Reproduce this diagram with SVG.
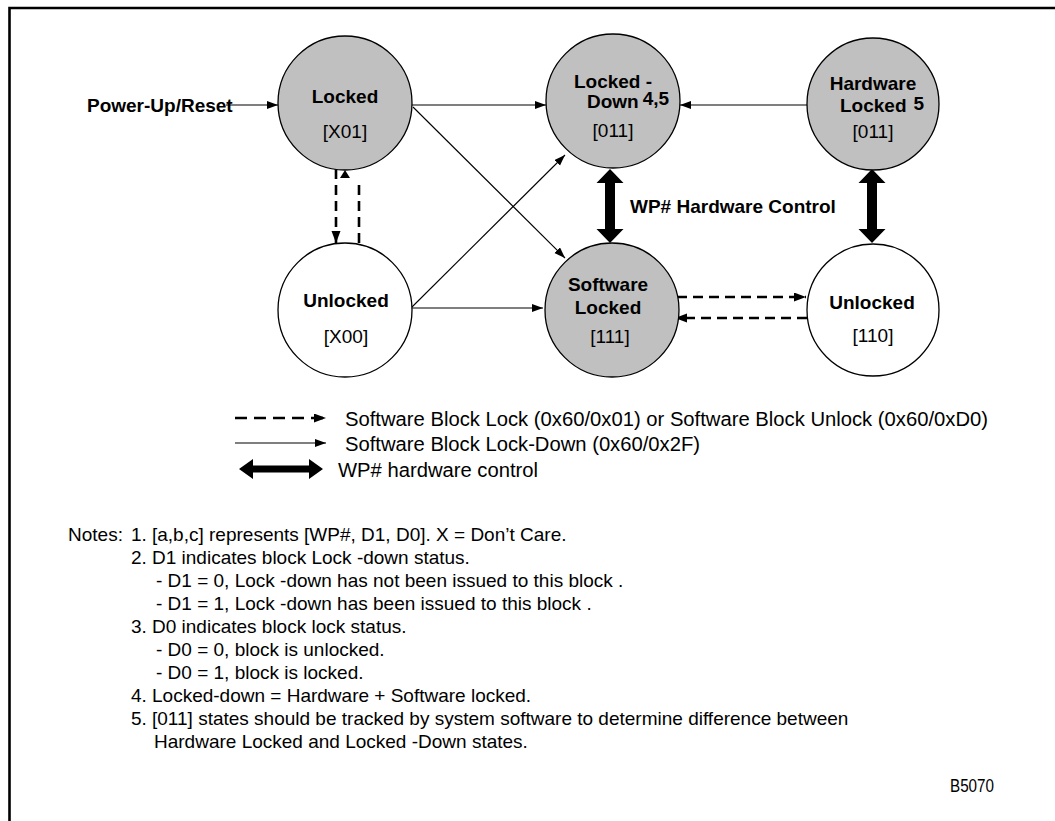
<svg xmlns="http://www.w3.org/2000/svg" width="1055" height="821" viewBox="0 0 1055 821">
<defs>
<marker id="ah" markerUnits="userSpaceOnUse" markerWidth="13" markerHeight="10" refX="12" refY="4.5" orient="auto">
<path d="M0,0 L12,4.5 L0,9 Z" fill="#000" stroke="none"/>
</marker>
<marker id="ahs" markerUnits="userSpaceOnUse" markerWidth="13" markerHeight="10" refX="11" refY="4" orient="auto">
<path d="M0,0 L11,4 L0,8 Z" fill="#000" stroke="none"/>
</marker>
</defs>
<style>
.bg{fill:#fff}
.node{stroke:#000;stroke-width:1.3}
.gray{fill:#c0c0c0}
.white{fill:#fff}
.lbl{font-family:"Liberation Sans",Arial,sans-serif;font-weight:bold;font-size:19px;fill:#000}
.code{font-family:"Liberation Sans",Arial,sans-serif;font-size:19px;fill:#000}
.solid{fill:none;stroke:#000;stroke-width:1.1;marker-end:url(#ahs)}
.dash{fill:none;stroke:#000;stroke-width:2.6;stroke-dasharray:10,6;marker-end:url(#ah)}
.thick{fill:#000;stroke:none}
.leg{font-family:"Liberation Sans",Arial,sans-serif;font-size:20px;fill:#000}
.note{font-family:"Liberation Sans",Arial,sans-serif;font-size:19px;fill:#000}
.border{fill:none;stroke:#000;stroke-width:2.6}
</style>
<rect class="bg" x="0" y="0" width="1055" height="821"/>
<path class="border" d="M9.5,821 L9.5,8 L1055,8"/>

<g id="connectors">
<path class="solid" d="M226,105 L278,105"/>
<path class="solid" d="M412,105 L546,105"/>
<path class="solid" d="M807,105 L680,105"/>
<path class="solid" d="M413,107 L565,258"/>
<path class="solid" d="M412,307 L565,155"/>
<path class="solid" d="M412,308 L543,308"/>
<path class="dash" d="M336,169 L336,243"/>
<path class="dash" d="M359,243 L359,179" style="marker-end:none"/>
<path class="thick" d="M345,170 L350,178 L340,178 Z"/>
<path class="dash" d="M677,297 L806,297"/>
<path class="dash" d="M807,318 L675,318"/>
<path class="thick" d="M610,169 L623.5,183 L615,183 L615,229 L623.5,229 L610,243 L596.5,229 L605,229 L605,183 L596.5,183 Z"/>
<path class="thick" d="M872,169 L885.5,183 L877,183 L877,229 L885.5,229 L872,243 L858.5,229 L867,229 L867,183 L858.5,183 Z"/>
</g>

<g id="node-locked">
<circle class="node gray" cx="345" cy="103" r="67"/>
<text class="lbl" x="345" y="103" text-anchor="middle">Locked</text>
<text class="code" x="345" y="138" text-anchor="middle">[X01]</text>
</g>

<g id="node-locked-down">
<circle class="node gray" cx="613" cy="101" r="67"/>
<text class="lbl" x="613" y="88" text-anchor="middle">Locked -</text>
<text class="lbl" x="587" y="108">Down<tspan dx="4" dy="-3">4,5</tspan></text>
<text class="code" x="613" y="137" text-anchor="middle">[011]</text>
</g>

<g id="node-hardware-locked">
<circle class="node gray" cx="873" cy="104" r="66"/>
<text class="lbl" x="873" y="90" text-anchor="middle">Hardware</text>
<text class="lbl" x="840" y="112">Locked<tspan dx="7" dy="-2">5</tspan></text>
<text class="code" x="873" y="138" text-anchor="middle">[011]</text>
</g>

<g id="node-unlocked-left">
<circle class="node white" cx="345" cy="310" r="67"/>
<text class="lbl" x="346" y="307" text-anchor="middle">Unlocked</text>
<text class="code" x="346" y="343" text-anchor="middle">[X00]</text>
</g>

<g id="node-software-locked">
<circle class="node gray" cx="612" cy="310" r="67"/>
<text class="lbl" x="608" y="291" text-anchor="middle">Software</text>
<text class="lbl" x="608" y="314" text-anchor="middle">Locked</text>
<text class="code" x="610" y="343" text-anchor="middle">[111]</text>
</g>

<g id="node-unlocked-right">
<circle class="node white" cx="873" cy="310" r="66"/>
<text class="lbl" x="872" y="309" text-anchor="middle">Unlocked</text>
<text class="code" x="873" y="342" text-anchor="middle">[110]</text>
</g>

<g id="labels">
<text class="lbl" x="87" y="112">Power-Up/Reset</text>
<text class="lbl" x="630" y="213">WP# Hardware Control</text>
</g>

<g id="legend">
<path class="dash" d="M235,418 L326,418" style="stroke-width:2.4;stroke-dasharray:12,7"/>
<path class="solid" d="M235,443 L326,443"/>
<path class="thick" d="M239,469 L253,459 L253,465.5 L309,465.5 L309,459 L323,469 L309,479 L309,472.5 L253,472.5 L253,479 Z"/>
<text class="leg" x="345" y="426" textLength="643" lengthAdjust="spacingAndGlyphs">Software Block Lock (0x60/0x01) or Software Block Unlock (0x60/0xD0)</text>
<text class="leg" x="345" y="451" textLength="355" lengthAdjust="spacingAndGlyphs">Software Block Lock-Down (0x60/0x2F)</text>
<text class="leg" x="338" y="477" textLength="200" lengthAdjust="spacingAndGlyphs">WP# hardware control</text>
</g>

<g id="notes">
<text class="note" x="68" y="541">Notes:</text>
<text class="note" x="131" y="541">1.</text>
<text class="note" x="152" y="541">[a,b,c] represents [WP#, D1, D0].  X = Don’t Care.</text>
<text class="note" x="131" y="564">2.</text>
<text class="note" x="152" y="564">D1 indicates block Lock -down status.</text>
<text class="note" x="156" y="587">- D1 = 0, Lock -down has not been issued to this block .</text>
<text class="note" x="156" y="610">- D1 = 1, Lock -down has been issued to this block .</text>
<text class="note" x="131" y="633">3.</text>
<text class="note" x="152" y="633">D0 indicates block lock status.</text>
<text class="note" x="156" y="656">- D0 = 0, block is unlocked.</text>
<text class="note" x="156" y="679">- D0 = 1, block is locked.</text>
<text class="note" x="131" y="702">4.</text>
<text class="note" x="152" y="702">Locked-down = Hardware + Software locked.</text>
<text class="note" x="131" y="725">5.</text>
<text class="note" x="152" y="725">[011] states should be tracked by system software to determine difference between</text>
<text class="note" x="154" y="748">Hardware Locked and Locked -Down states.</text>
<text class="note" x="994" y="792" text-anchor="end" textLength="44" lengthAdjust="spacingAndGlyphs">B5070</text>
</g>
</svg>
